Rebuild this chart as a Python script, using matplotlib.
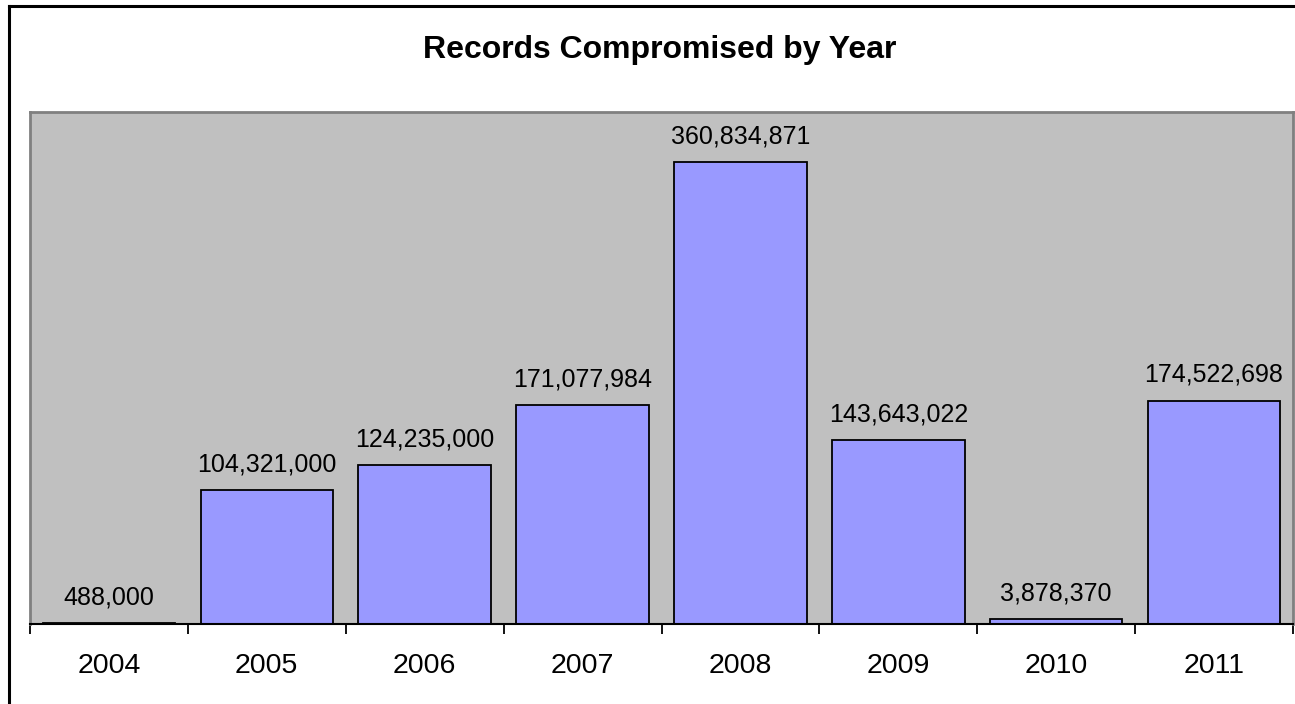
import matplotlib
matplotlib.use("Agg")
import matplotlib.pyplot as plt
from matplotlib.lines import Line2D
import numpy as np

years = ["2004", "2005", "2006", "2007", "2008", "2009", "2010", "2011"]
records = [488000, 104321000, 124235000, 171077984, 360834871, 143643022, 3878370, 174522698]

plt.rcParams['font.family'] = ['Liberation Sans', 'DejaVu Sans']

W, H = 1295, 704
fig = plt.figure(figsize=(W / 100, H / 100), dpi=100)
fig.patch.set_facecolor('white')

# outer chart border (left & top visible)
fig.add_artist(Line2D([9 / W, 9 / W], [0, 1 - 5.5 / H], transform=fig.transFigure,
                      color='black', lw=2.2, solid_capstyle='projecting'))
fig.add_artist(Line2D([9 / W, 1], [1 - 5.5 / H, 1 - 5.5 / H], transform=fig.transFigure,
                      color='black', lw=2.2, solid_capstyle='projecting'))

left, right, top, bottom = 30, 1293, 112, 624
ax = fig.add_axes([left / W, 1 - bottom / H, (right - left) / W, (bottom - top) / H])
ax.set_facecolor('#C0C0C0')

x = np.arange(len(years))
ax.bar(x, records, width=0.84, color='#9999FF', edgecolor='black', linewidth=1.3, zorder=2)

for xi, v in zip(x, records):
    ax.annotate(f"{v:,}", (xi, v), xytext=(0, 13.5), textcoords='offset points',
                ha='center', va='baseline', fontsize=18, color='black')

ax.set_xlim(-0.5, len(years) - 0.5)
ax.set_ylim(0, 400_000_000)
ax.set_yticks([])

ax.set_xticks(x)
ax.set_xticklabels(years, fontsize=20.5)
ax.tick_params(axis='x', which='major', length=0, pad=21)
ax.set_xticks(np.arange(-0.5, len(years)), minor=True)
ax.tick_params(axis='x', which='minor', length=7, width=1.3, color='black', direction='out')

for s in ['left', 'top', 'right']:
    ax.spines[s].set_color('#808080')
    ax.spines[s].set_linewidth(2)
ax.spines['bottom'].set_color('black')
ax.spines['bottom'].set_linewidth(1.5)
ax.spines['bottom'].set_zorder(3)

fig.text(660 / W, 1 - 58 / H, "Records Compromised by Year",
         ha='center', va='baseline', fontsize=23, fontweight='bold')

fig.savefig("out.png", dpi=100)
